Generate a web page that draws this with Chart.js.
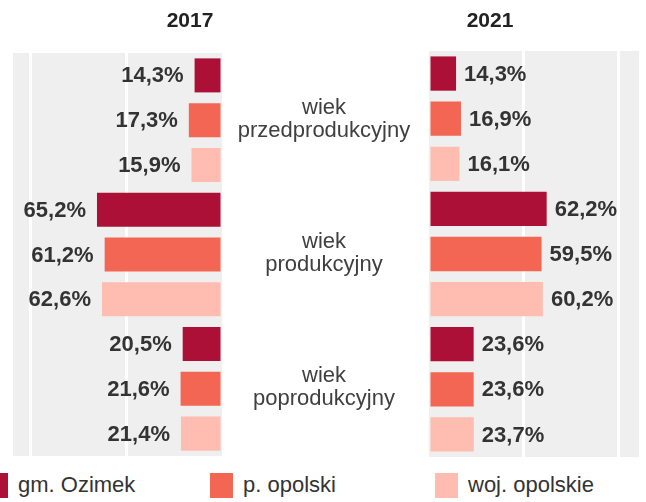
<!DOCTYPE html>
<html>
<head>
<meta charset="utf-8">
<script src="https://cdn.jsdelivr.net/npm/chart.js@4/dist/chart.umd.min.js"></script>
<style>
  body { margin: 0; background: #fff; font-family: "Liberation Sans", Arial, sans-serif; }
  #wrap { position: relative; width: 646px; height: 502px; overflow: hidden; }
  #leftBox { position: absolute; left: 0; top: 0; width: 426px; height: 470px; }
  #rightBox { position: absolute; left: 323px; top: 0; width: 323px; height: 470px; }
  .year { position: absolute; top: 8px; font-weight: bold; font-size: 21px; color: #222; transform: translateX(-50%); }
  #legend { position: absolute; left: 0; top: 470px; width: 646px; height: 32px; }
  .item { position: absolute; top: 2px; display: flex; align-items: center; font-size: 22px; color: #333; }
  .swatch { width: 23px; height: 25px; margin-right: 10px; }
</style>
</head>
<body>
<div id="wrap">
  <div id="leftBox"><canvas id="left"></canvas></div>
  <div id="rightBox"><canvas id="right"></canvas></div>
  <div class="year" style="left:190px">2017</div>
  <div class="year" style="left:490px">2021</div>
  <div id="legend"></div>
</div>
<script>
// Struktura ludności wg ekonomicznych grup wieku, 2017 i 2021

const groups = [
  ["wiek", "przedprodukcyjny"],
  ["wiek", "produkcyjny"],
  ["wiek", "poprodukcyjny"],
];
const seriesNames = ["gm. Ozimek", "p. opolski", "woj. opolskie"];
const colors = ["#ad1036", "#f26653", "#ffbcb0"];

const ozimek2017 = [14.3, 65.2, 20.5];
const opolski2017 = [17.3, 61.2, 21.6];
const woj2017 = [15.9, 62.6, 21.4];

const ozimek2021 = [14.3, 62.2, 23.6];
const opolski2021 = [16.9, 59.5, 23.6];
const woj2021 = [16.1, 60.2, 23.7];

const fmt = (v) => v.toFixed(1).replace(".", ",") + "%";

function makeDatasets(values) {
  return values.map((vals, i) => ({
    label: seriesNames[i],
    data: vals,
    backgroundColor: colors[i],
    borderWidth: 0,
    barPercentage: 0.76,
    categoryPercentage: 1,
  }));
}

// grey plot background
const bgPlugin = {
  id: "bg",
  beforeDraw(chart) {
    const { ctx, chartArea: a } = chart;
    ctx.save();
    ctx.fillStyle = "#efefef";
    ctx.fillRect(a.left, a.top, a.right - a.left, a.bottom - a.top);
    ctx.restore();
  },
};

// value labels next to bars
const valuePlugin = {
  id: "values",
  afterDatasetsDraw(chart, args, opts) {
    const { ctx } = chart;
    ctx.save();
    ctx.font = "bold 22px 'Liberation Sans', Arial, sans-serif";
    ctx.fillStyle = "#333";
    ctx.textBaseline = "middle";
    chart.data.datasets.forEach((ds, di) => {
      chart.getDatasetMeta(di).data.forEach((bar, i) => {
        const txt = fmt(ds.data[i]);
        if (opts.side === "left") {
          ctx.textAlign = "right";
          ctx.fillText(txt, bar.x - 11, bar.y + 1);
        } else {
          ctx.textAlign = "left";
          ctx.fillText(txt, bar.x + 8, bar.y + 1);
        }
      });
    });
    ctx.restore();
  },
};

// group names in the middle
const groupPlugin = {
  id: "groups",
  afterDraw(chart) {
    const { ctx, chartArea: a } = chart;
    const y = chart.scales.y;
    ctx.save();
    ctx.font = "22px 'Liberation Sans', Arial, sans-serif";
    ctx.fillStyle = "#404040";
    ctx.textAlign = "center";
    ctx.textBaseline = "middle";
    groups.forEach((lines, i) => {
      const cy = y.getPixelForValue(i);
      lines.forEach((ln, k) => {
        ctx.fillText(ln, a.right + 102, cy + (k - (lines.length - 1) / 2) * 23 - 1);
      });
    });
    ctx.restore();
  },
};

function xScale(reverse, max) {
  return {
    reverse: reverse,
    min: 0,
    max: max,
    ticks: { display: false, stepSize: 50, includeBounds: false },
    grid: {
      drawTicks: false,
      lineWidth: 3,
      color: (c) => (c.tick && c.tick.value === 0 ? "rgba(0,0,0,0)" : "#ffffff"),
    },
    border: { display: false },
  };
}

const common = {
  indexAxis: "y",
  responsive: true,
  maintainAspectRatio: false,
  animation: false,
  plugins: { legend: { display: false }, tooltip: { enabled: false } },
};

new Chart(document.getElementById("left"), {
  type: "bar",
  data: { labels: groups, datasets: makeDatasets([ozimek2017, opolski2017, woj2017]) },
  options: {
    ...common,
    layout: { padding: { left: 13, right: 204, top: 53, bottom: 14 } },
    scales: {
      x: xScale(true, 109),
      y: { display: false },
    },
    plugins: { ...common.plugins, values: { side: "left" } },
  },
  plugins: [bgPlugin, valuePlugin, groupPlugin],
});

new Chart(document.getElementById("right"), {
  type: "bar",
  data: { labels: groups, datasets: makeDatasets([ozimek2021, opolski2021, woj2021]) },
  options: {
    ...common,
    layout: { padding: { left: 106, right: 7, top: 51, bottom: 13 } },
    scales: {
      x: xScale(false, 111),
      y: { display: false },
    },
    plugins: { ...common.plugins, values: { side: "right" } },
  },
  plugins: [bgPlugin, valuePlugin],
});

// legend
const legend = document.getElementById("legend");
seriesNames.forEach((name, i) => {
  const item = document.createElement("div");
  item.className = "item";
  item.style.left = (-15 + i * 225) + "px";
  const sw = document.createElement("span");
  sw.className = "swatch";
  sw.style.background = colors[i];
  const label = document.createElement("span");
  label.textContent = name;
  item.appendChild(sw);
  item.appendChild(label);
  legend.appendChild(item);
});
</script>
</body>
</html>
